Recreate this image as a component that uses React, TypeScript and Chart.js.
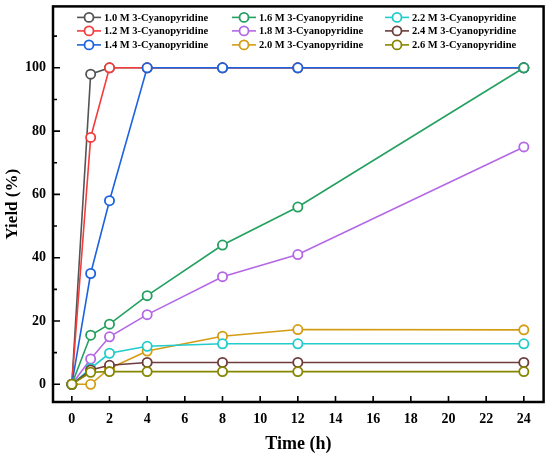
import { useEffect, useRef } from 'react';
import { Chart, registerables } from 'chart.js';

Chart.register(...registerables);

// time points (h)
const TIMES = [0, 1, 2, 4, 8, 12, 24];

const LABELS = [
  '1.0 M 3-Cyanopyridine',
  '1.2 M 3-Cyanopyridine',
  '1.4 M 3-Cyanopyridine',
  '1.6 M 3-Cyanopyridine',
  '1.8 M 3-Cyanopyridine',
  '2.0 M 3-Cyanopyridine',
  '2.2 M 3-Cyanopyridine',
  '2.4 M 3-Cyanopyridine',
  '2.6 M 3-Cyanopyridine',
];

// yield (%)
const Y_10 = [0, 98, 100, 100, 100, 100, 100];
const Y_12 = [0, 78, 100, 100, 100, 100, 100];
const Y_14 = [0, 35, 58, 100, 100, 100, 100];
const Y_16 = [0, 15.5, 19, 28, 44, 56, 100];
const Y_18 = [0, 8, 15, 22, 34, 41, 75];
const Y_20 = [0, 0, 5, 10.5, 15.2, 17.3, 17.2];
const Y_22 = [0, 5, 9.8, 12, 12.8, 12.8, 12.8];
const Y_24 = [0, 4.5, 6, 6.9, 6.9, 6.9, 6.9];
const Y_26 = [0, 3.8, 4, 4, 4, 4, 4];

const SERIES = [Y_10, Y_12, Y_14, Y_16, Y_18, Y_20, Y_22, Y_24, Y_26];
const COLORS = [
  '#545454', '#f43c3c', '#1c63e0', '#24a060', '#b468e6',
  '#d49c12', '#20cccc', '#6e3c3c', '#868600',
];

const X_TICKS = [0, 2, 4, 6, 8, 10, 12, 14, 16, 18, 20, 22, 24];
const Y_TICKS = [0, 20, 40, 60, 80, 100];
const Y_MINOR = [10, 30, 50, 70, 90, 110];

const SERIF = '"Liberation Serif", "Times New Roman", serif';

const framePlugin = {
  id: 'frameAndTicks',
  afterDatasetsDraw(chart: any) {
    const { ctx, chartArea: a, scales } = chart;
    const x = scales.x;
    const y = scales.y;
    ctx.save();
    ctx.strokeStyle = '#000';
    ctx.lineWidth = 1.6;
    ctx.beginPath();
    X_TICKS.forEach((v) => {
      const px = x.getPixelForValue(v);
      ctx.moveTo(px, a.bottom);
      ctx.lineTo(px, a.bottom - 6);
    });
    Y_TICKS.forEach((v) => {
      const py = y.getPixelForValue(v);
      ctx.moveTo(a.left, py);
      ctx.lineTo(a.left + 7, py);
    });
    Y_MINOR.forEach((v) => {
      const py = y.getPixelForValue(v);
      ctx.moveTo(a.left, py);
      ctx.lineTo(a.left + 4, py);
    });
    ctx.stroke();
    ctx.lineWidth = 2.5;
    ctx.strokeRect(a.left, a.top, a.right - a.left, a.bottom - a.top);
    ctx.restore();
  },
};

// legend drawn inside the plot box, 3 columns
const legendPlugin = {
  id: 'innerLegend',
  afterDraw(chart: any) {
    const { ctx, chartArea: a } = chart;
    const colX = [24, 179, 332];
    const rowY = [11, 24.5, 38.5];
    ctx.save();
    ctx.font = `bold 10.5px ${SERIF}`;
    ctx.textBaseline = 'middle';
    ctx.textAlign = 'left';
    chart.data.datasets.forEach((ds: any, i: number) => {
      const col = Math.floor(i / 3);
      const row = i % 3;
      const x0 = a.left + colX[col];
      const yy = a.top + rowY[row];
      ctx.strokeStyle = ds.borderColor;
      ctx.lineWidth = 1.6;
      ctx.beginPath();
      ctx.moveTo(x0, yy);
      ctx.lineTo(x0 + 24, yy);
      ctx.stroke();
      ctx.beginPath();
      ctx.arc(x0 + 12, yy, 4.5, 0, Math.PI * 2);
      ctx.fillStyle = '#fff';
      ctx.fill();
      ctx.lineWidth = 1.8;
      ctx.stroke();
      ctx.fillStyle = '#000';
      ctx.fillText(ds.label, x0 + 27, yy + 0.5);
    });
    ctx.restore();
  },
};

export default function App() {
  const canvasRef = useRef<HTMLCanvasElement>(null);
  const chartRef = useRef<Chart | null>(null);

  useEffect(() => {
    document.body.style.margin = '0';
    if (!canvasRef.current) return;
    const ctx = canvasRef.current.getContext('2d');
    if (!ctx) return;

    chartRef.current?.destroy();
    chartRef.current = new Chart(ctx, {
      type: 'line',
      data: {
        datasets: SERIES.map((vals, i) => ({
          label: LABELS[i],
          data: TIMES.map((t, j) => ({ x: t, y: vals[j] })),
          borderColor: COLORS[i],
          backgroundColor: COLORS[i],
          borderWidth: 1.6,
          pointRadius: 4.6,
          pointBorderWidth: 1.8,
          pointBackgroundColor: '#fff',
          pointBorderColor: COLORS[i],
          tension: 0,
          order: SERIES.length - i,
        })),
      },
      options: {
        responsive: false,
        animation: false,
        layout: { padding: { top: 4, right: 4, left: 0, bottom: 0 } },
        plugins: {
          legend: { display: false },
          tooltip: { enabled: false },
        },
        scales: {
          x: {
            type: 'linear',
            min: -1,
            max: 25.05,
            afterBuildTicks: (s: any) => {
              s.ticks = X_TICKS.map((v) => ({ value: v }));
            },
            afterFit: (s: any) => {
              s.height = 55;
              s.paddingLeft = 0;
              s.paddingRight = 0;
            },
            grid: { display: false, drawTicks: false },
            border: { display: false },
            ticks: {
              color: '#000',
              padding: 9,
              maxRotation: 0,
              font: { family: SERIF, size: 14, weight: 'bold' },
            },
            title: {
              display: true,
              text: 'Time (h)',
              color: '#000',
              padding: { top: 0, bottom: 2 },
              font: { family: SERIF, size: 18, weight: 'bold' },
            },
          },
          y: {
            type: 'linear',
            min: -5.6,
            max: 119.4,
            afterBuildTicks: (s: any) => {
              s.ticks = Y_TICKS.map((v) => ({ value: v }));
            },
            afterFit: (s: any) => {
              s.width = 53;
              s.paddingTop = 0;
              s.paddingBottom = 0;
            },
            grid: { display: false, drawTicks: false },
            border: { display: false },
            ticks: {
              color: '#000',
              padding: 7,
              font: { family: SERIF, size: 14, weight: 'bold' },
            },
            title: {
              display: true,
              text: 'Yield (%)',
              color: '#000',
              padding: { top: 2, bottom: 0 },
              font: { family: SERIF, size: 17, weight: 'bold' },
            },
          },
        },
      },
      plugins: [framePlugin, legendPlugin],
    });

    return () => {
      chartRef.current?.destroy();
    };
  }, []);

  return (
    <div style={{ width: 550, height: 457, background: '#fff' }}>
      <canvas ref={canvasRef} width={550} height={457} />
    </div>
  );
}
